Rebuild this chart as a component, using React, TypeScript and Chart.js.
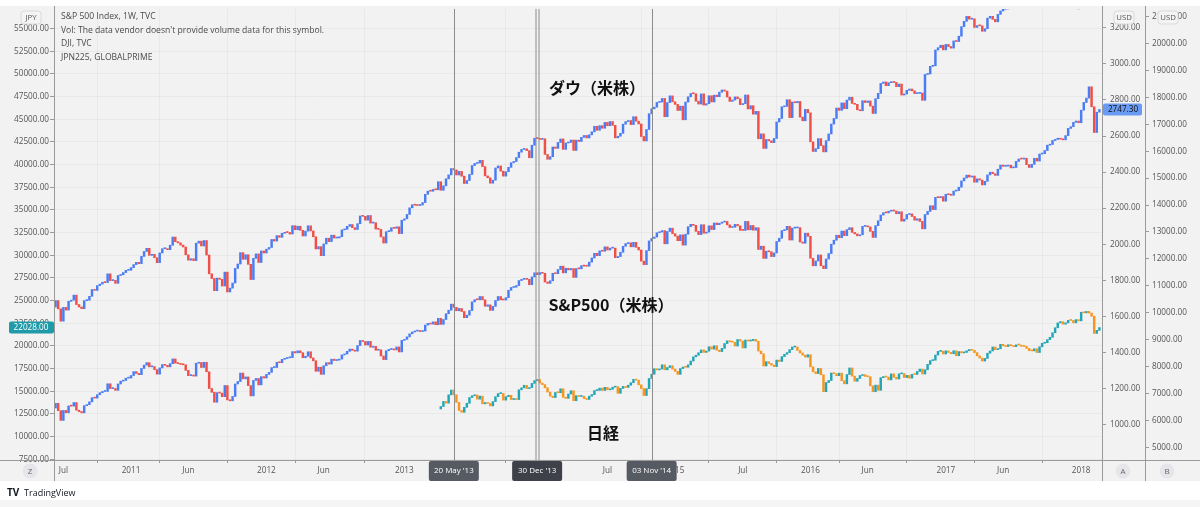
import React, { useEffect, useRef } from "react";
import { Chart, registerables } from "chart.js";
Chart.register(...registerables);

// Weekly candles, week index 0 = week of 14 Jun 2010, 401 = week of 19 Feb 2018
const DOW_FIRST_OPEN = 10211;
const DOW_CLOSE = [
  // 2010
  10450.6, 10143.8, 9686.5, 10198.0, 10097.9, 10424.6, 10465.9, 10653.6, 10303.2, 10213.6, 10150.65, 10447.9, 10462.8, 10607.85, 10860.3, 10829.7, 11006.5, 11062.8, 11132.6, 11118.5, 11444.1, 11192.6, 11203.55, 11092.0, 11382.1, 11410.3, 11491.9, 11573.5, 11577.5,
  // 2011
  11674.8, 11787.4, 11871.8, 11823.7, 12092.15, 12273.3, 12391.25, 12130.45, 12169.9, 12044.4, 11858.5, 12220.6, 12376.7, 12380.05, 12341.8, 12505.99, 12810.5, 12638.7, 12595.75, 12512.0, 12441.6, 12151.3, 11951.9, 12004.4, 11934.6, 12582.8, 12657.2, 12479.7, 12681.2, 12143.2, 11444.6, 11269.0, 10817.65, 11284.5, 11240.3, 10992.1, 11509.1, 10771.5, 10913.4, 11103.1, 11644.5, 11808.8, 12231.1, 11983.2, 12153.7, 11796.2, 11231.8, 12019.4, 12184.3, 11866.4, 12294.0, 12217.6,
  // 2012
  12359.9, 12422.1, 12720.5, 12660.5, 12862.2, 12801.2, 12949.9, 12982.95, 12977.6, 12922.0, 13232.6, 13080.7, 13212.0, 13060.1, 12849.6, 13029.3, 13228.3, 13038.3, 12820.6, 12369.4, 12454.8, 12118.6, 12554.2, 12767.2, 12640.8, 12880.1, 12772.5, 12777.1, 12822.6, 13075.7, 13096.2, 13207.95, 13275.2, 13157.97, 13090.8, 13306.6, 13593.4, 13579.5, 13437.1, 13610.15, 13328.85, 13343.5, 13107.2, 13093.2, 12815.4, 12588.3, 13009.7, 13025.6, 13155.1, 13135.0, 13190.8, 12938.1,
  // 2013
  13435.2, 13488.4, 13649.7, 13895.98, 14009.8, 13992.97, 13981.8, 14000.6, 14089.7, 14397.1, 14514.1, 14512.0, 14578.5, 14565.25, 14865.1, 14547.5, 14712.55, 14973.96, 15118.5, 15354.4, 15303.1, 15115.6, 15248.1, 15070.2, 14799.4, 14909.6, 15135.8, 15464.3, 15543.7, 15558.8, 15658.4, 15425.5, 15081.5, 15010.5, 14810.3, 14922.5, 15376.1, 15451.1, 15258.2, 15072.6, 15237.1, 15399.65, 15570.3, 15615.55, 15761.8, 15961.7, 16064.8, 16086.4, 16020.2, 15755.4, 16221.1, 16478.4,
  // 2014
  16469.99, 16437.05, 16458.6, 15879.1, 15698.85, 15794.1, 16154.4, 16103.3, 16321.7, 16452.7, 16065.7, 16302.8, 16323.1, 16412.7, 16026.75, 16408.5, 16361.5, 16512.9, 16583.3, 16491.3, 16606.3, 16717.2, 16924.3, 16775.7, 16947.1, 16851.8, 17068.3, 16943.8, 17100.2, 16960.6, 16493.4, 16553.9, 16662.9, 17001.2, 17098.45, 17137.4, 16987.5, 17279.7, 17113.15, 17009.7, 16544.1, 16380.4, 16805.4, 17390.5, 17573.9, 17634.7, 17810.1, 17828.2, 17958.8, 17280.8, 17804.8, 18053.7,
  // 2015
  17832.99, 17737.4, 17511.6, 17672.6, 17164.95, 17824.3, 18019.35, 18140.4, 18132.7, 17856.8, 17749.3, 18127.65, 17712.7, 17763.2, 18057.65, 17826.3, 18080.1, 18024.1, 18191.1, 18272.6, 18232.0, 18010.7, 17849.5, 17898.8, 18015.95, 17946.7, 17730.1, 17760.4, 18086.45, 17568.5, 17689.9, 17373.4, 17477.4, 16459.75, 16643.0, 16102.4, 16433.1, 16384.6, 16314.7, 16472.4, 17084.5, 17215.97, 17646.7, 17663.5, 17910.3, 17245.2, 17823.8, 17798.5, 17847.6, 17265.2, 17128.55, 17552.2,
  // 2016
  17425.0, 16346.45, 15988.1, 16093.5, 16466.3, 16204.97, 15973.8, 16391.99, 16639.97, 17006.8, 17213.3, 17602.3, 17515.7, 17792.75, 17576.96, 17897.5, 18003.75, 17773.6, 17740.6, 17535.3, 17500.9, 17873.2, 17807.06, 17865.3, 17675.2, 17400.75, 17949.4, 18146.7, 18516.55, 18570.85, 18432.2, 18543.5, 18576.5, 18552.6, 18395.4, 18491.96, 18085.45, 18123.8, 18261.45, 18308.15, 18240.5, 18138.4, 18145.7, 18161.2, 17888.3, 18847.7, 18867.9, 19152.1, 19170.4, 19756.85, 19843.4, 19933.8, 19762.6,
  // 2017
  19963.8, 19885.7, 19827.25, 20093.8, 20071.5, 20269.4, 20624.05, 20821.8, 21005.7, 20902.98, 20914.6, 20596.7, 20663.2, 20656.1, 20453.25, 20547.8, 20940.5, 21006.9, 20896.6, 20804.8, 21080.3, 21206.3, 21271.97, 21384.3, 21394.8, 21349.6, 21414.3, 21637.7, 21580.1, 21830.3, 22092.8, 21858.3, 21674.5, 21813.7, 21987.6, 21797.8, 22268.3, 22349.6, 22405.1, 22773.7, 22871.7, 23328.6, 23434.2, 23539.2, 23422.2, 23358.2, 23557.99, 24231.6, 24329.2, 24651.7, 24754.1, 24719.2,
  // 2018
  25295.9, 25803.2, 26071.7, 26616.7, 25520.96, 24190.9, 25219.4, 25309.99,
];

const SP_FIRST_OPEN = 1091.6;
const SP_CLOSE = [
  // 2010
  1117.5, 1076.8, 1022.6, 1077.96, 1064.9, 1102.7, 1101.6, 1121.6, 1079.25, 1071.7, 1064.6, 1104.5, 1109.6, 1125.6, 1148.7, 1146.2, 1165.15, 1176.2, 1183.1, 1183.3, 1225.85, 1199.2, 1199.7, 1189.4, 1224.7, 1240.4, 1243.9, 1256.8, 1257.6,
  // 2011
  1271.5, 1293.2, 1283.35, 1276.3, 1310.9, 1329.15, 1343.0, 1319.9, 1321.15, 1304.3, 1279.2, 1313.8, 1332.4, 1328.2, 1319.7, 1337.4, 1363.6, 1340.2, 1337.8, 1333.3, 1331.1, 1300.2, 1270.98, 1271.5, 1268.45, 1339.7, 1343.8, 1316.1, 1345.0, 1292.3, 1199.4, 1178.8, 1123.5, 1176.8, 1173.97, 1154.2, 1216.0, 1136.4, 1131.4, 1155.5, 1224.6, 1238.25, 1285.1, 1253.2, 1263.85, 1215.65, 1158.7, 1244.3, 1255.2, 1219.7, 1265.3, 1257.6,
  // 2012
  1277.8, 1289.1, 1315.4, 1316.3, 1344.9, 1342.6, 1361.2, 1365.7, 1369.6, 1370.9, 1404.2, 1397.1, 1408.5, 1398.1, 1370.3, 1378.5, 1403.4, 1369.1, 1353.4, 1295.2, 1317.8, 1278.0, 1325.7, 1342.8, 1335.0, 1362.2, 1354.7, 1356.8, 1362.7, 1385.97, 1390.99, 1405.9, 1418.2, 1411.1, 1406.6, 1437.9, 1465.8, 1460.2, 1440.7, 1460.9, 1428.6, 1433.2, 1411.9, 1414.2, 1379.85, 1359.9, 1409.15, 1416.2, 1418.1, 1413.6, 1430.15, 1402.4,
  // 2013
  1466.5, 1472.05, 1485.98, 1502.96, 1513.17, 1517.93, 1519.79, 1515.6, 1518.2, 1551.2, 1560.7, 1556.9, 1569.2, 1553.3, 1588.85, 1555.25, 1582.2, 1614.4, 1633.7, 1667.5, 1649.6, 1630.7, 1643.4, 1626.7, 1592.4, 1606.3, 1631.9, 1680.2, 1692.1, 1691.65, 1709.7, 1691.4, 1655.8, 1663.5, 1632.97, 1655.2, 1687.99, 1709.9, 1691.75, 1690.5, 1703.2, 1744.5, 1759.8, 1761.6, 1770.6, 1798.2, 1804.8, 1805.8, 1805.1, 1775.3, 1818.3, 1841.4,
  // 2014
  1831.4, 1842.4, 1838.7, 1790.3, 1782.6, 1797.0, 1838.6, 1836.25, 1859.45, 1878.0, 1841.1, 1866.5, 1857.6, 1865.1, 1815.7, 1864.85, 1863.4, 1881.1, 1878.5, 1877.9, 1900.5, 1923.6, 1949.4, 1936.2, 1962.9, 1960.96, 1985.4, 1967.6, 1978.2, 1978.3, 1925.15, 1931.6, 1955.1, 1988.4, 2003.4, 2007.7, 1985.5, 2010.4, 1982.85, 1967.9, 1906.1, 1886.8, 1964.6, 2018.05, 2031.9, 2039.8, 2063.5, 2067.6, 2075.4, 2002.3, 2070.65, 2088.8,
  // 2015
  2058.2, 2044.8, 2019.4, 2051.8, 1994.99, 2055.5, 2096.99, 2110.3, 2104.5, 2071.3, 2053.4, 2108.1, 2061.0, 2066.96, 2102.06, 2081.2, 2117.7, 2108.3, 2116.1, 2122.7, 2126.06, 2107.4, 2092.8, 2094.1, 2109.99, 2101.5, 2076.8, 2076.6, 2126.6, 2079.65, 2103.8, 2077.6, 2091.5, 1970.9, 1988.9, 1921.2, 1961.05, 1958.0, 1931.3, 1951.4, 2014.9, 2033.1, 2075.15, 2079.4, 2099.2, 2023.0, 2089.2, 2090.1, 2091.7, 2012.4, 2005.55, 2060.99,
  // 2016
  2043.9, 1922.0, 1880.3, 1906.9, 1940.2, 1880.05, 1864.8, 1917.8, 1948.05, 1999.99, 2022.2, 2049.6, 2035.9, 2072.8, 2047.6, 2080.7, 2091.6, 2065.3, 2057.1, 2046.6, 2052.3, 2099.1, 2099.1, 2096.1, 2071.2, 2037.4, 2102.95, 2129.9, 2161.7, 2175.0, 2173.6, 2182.9, 2184.05, 2183.9, 2169.0, 2179.98, 2127.8, 2139.2, 2164.7, 2168.3, 2153.7, 2132.98, 2141.2, 2126.4, 2085.2, 2164.45, 2181.9, 2213.35, 2191.95, 2259.5, 2258.1, 2263.8, 2238.8,
  // 2017
  2276.98, 2274.6, 2271.3, 2294.7, 2297.4, 2316.1, 2351.2, 2367.3, 2383.1, 2372.6, 2378.25, 2343.98, 2362.7, 2355.5, 2328.95, 2348.7, 2384.2, 2399.3, 2390.9, 2381.7, 2415.8, 2439.1, 2431.8, 2433.15, 2438.3, 2423.4, 2425.2, 2459.3, 2472.5, 2472.1, 2476.8, 2441.3, 2425.55, 2443.05, 2476.55, 2461.4, 2500.2, 2502.2, 2519.4, 2549.3, 2553.2, 2575.2, 2581.1, 2587.8, 2582.3, 2578.85, 2602.4, 2642.2, 2651.5, 2675.8, 2683.3, 2673.6,
  // 2018
  2743.15, 2786.2, 2810.3, 2872.9, 2762.1, 2619.55, 2732.2, 2747.3,
];

// Nikkei (JPN225) starts at week index 148 (week of 15 Apr 2013)
const NK_START = 148;
const NK_FIRST_OPEN = 13050;
const NK_CLOSE = [
  // 2013
  13317, 13884, 13694, 14608, 15138, 14612, 13774, 12877, 12686, 13230, 13677, 14310, 14506, 14589, 14130, 14467, 13615, 13752, 13660, 13389, 13861, 14405, 14742, 14760, 14025, 14405, 14562, 14088, 14201, 14086, 15165, 15381, 15661, 15299, 15403, 15870, 16178,
  // 2014
  16291, 15912, 15734, 15391, 14915, 14462, 14313, 14866, 14841, 15274, 14327, 14224, 14696, 15063, 13960, 14516, 14429, 14457, 14199, 14097, 14462, 14632, 15077, 15097, 15349, 15095, 15437, 15164, 15215, 15457, 15523, 14778, 15318, 15539, 15425, 15669, 15948, 16321, 16229, 15708, 15300, 14532, 15291, 16413, 16880, 17490, 17357, 17460, 17920, 17371, 17621, 17818,
  // 2015
  17451, 17197, 16864, 17511, 17674, 17648, 17913, 18332, 18798, 18971, 19254, 19560, 19286, 19435, 19908, 19652, 20020, 19532, 19379, 19733, 20264, 20563, 20461, 20407, 19991, 20706, 20540, 19780, 20650, 20545, 20585, 20724, 20520, 19436, 19136, 17792, 18264, 18070, 17880, 17725, 18438, 18291, 18825, 19083, 19265, 19596, 19880, 19884, 19504, 19231, 18987, 18770,
  // 2016
  19034, 17698, 17147, 16959, 17518, 16820, 14953, 15967, 16188, 17014, 16938, 16724, 17002, 16164, 15821, 16848, 17572, 16666, 16106, 16412, 16736, 16834, 16642, 16601, 15600, 14952, 15682, 15106, 16497, 16627, 16569, 16254, 16919, 16545, 16360, 16925, 16965, 16519, 16754, 16449, 16860, 16856, 17184, 17446, 16905, 17374, 17968, 18381, 18426, 18996, 19401, 19427, 19114,
  // 2017
  19454, 19287, 19137, 19467, 18918, 19378, 19235, 19284, 19469, 19605, 19521, 19263, 18909, 18665, 18336, 18620, 19197, 19445, 19883, 19591, 19687, 20177, 20013, 19943, 20133, 20033, 19929, 20119, 20100, 19960, 19952, 19730, 19470, 19453, 19691, 19275, 19909, 20296, 20356, 20691, 20955, 21457, 22008, 22539, 22681, 22397, 22551, 22819, 22811, 22553, 22902, 22765,
  // 2018
  23714, 23653, 23808, 23631, 23274, 21383, 21720, 22028,
];

// Time axis
const X_TICK_POS = [3, 29, 51, 81, 103, 134, 212, 238, 264, 290, 312, 342, 364, 394];
const X_TICK_TEXT = ["Jul", "2011", "Jun", "2012", "Jun", "2013", "Jul", "2015", "Jul", "2016", "Jun", "2017", "Jun", "2018"];
const MARKER_POS = [153, 185, 229];
const MARKER_TEXT = ["20 May '13", "30 Dec '13", "03 Nov '14"];

// Price axes
const JPY_TICKS = [7500, 10000, 12500, 15000, 17500, 20000, 22500, 25000, 27500, 30000, 32500, 35000, 37500, 40000, 42500, 45000, 47500, 50000, 52500, 55000];
const SP_TICKS = [1000, 1200, 1400, 1600, 1800, 2000, 2200, 2400, 2600, 2800, 3000, 3200];
const DOW_TICKS = [5000, 6000, 7000, 8000, 9000, 10000, 11000, 12000, 13000, 14000, 15000, 16000, 17000, 18000, 19000, 20000, 21000];

const SERIES_LABELS = ["ダウ（米株）", "S&P500（米株）", "日経"];
const LEGEND_LINES = [
  "S&P 500 Index, 1W, TVC",
  "Vol: The data vendor doesn't provide volume data for this symbol.",
  "DJI, TVC",
  "JPN225, GLOBALPRIME",
];

const FONT = "'Open Sans', 'Noto Sans', sans-serif";
const JP_FONT = "'Noto Sans CJK JP', 'Noto Sans', sans-serif";

function makeCandles(closes: number[], firstOpen: number, start: number) {
  return closes.map((c, i) => ({ x: start + i, y: [i === 0 ? firstOpen : closes[i - 1], c] }));
}
function candleColors(closes: number[], firstOpen: number, up: string, down: string) {
  return closes.map((c, i) => (c >= (i === 0 ? firstOpen : closes[i - 1]) ? up : down));
}

function roundRect(ctx: CanvasRenderingContext2D, x: number, y: number, w: number, h: number, r: number) {
  ctx.beginPath();
  ctx.moveTo(x + r, y);
  ctx.lineTo(x + w - r, y);
  ctx.quadraticCurveTo(x + w, y, x + w, y + r);
  ctx.lineTo(x + w, y + h - r);
  ctx.quadraticCurveTo(x + w, y + h, x + w - r, y + h);
  ctx.lineTo(x + r, y + h);
  ctx.quadraticCurveTo(x, y + h, x, y + h - r);
  ctx.lineTo(x, y + r);
  ctx.quadraticCurveTo(x, y, x + r, y);
  ctx.closePath();
}

const decorPlugin = {
  id: "decor",
  beforeDraw(chart: any) {
    const ctx = chart.ctx as CanvasRenderingContext2D;
    ctx.save();
    ctx.fillStyle = "#ffffff";
    ctx.fillRect(0, 0, chart.width, chart.height);
    ctx.fillStyle = "#f2f2f2";
    ctx.fillRect(0, 6, chart.width, 475);
    ctx.fillStyle = "#f5f5f5";
    ctx.fillRect(0, 500, chart.width, 7);
    ctx.restore();
  },
  afterDatasetsDraw(chart: any) {
    const ctx = chart.ctx as CanvasRenderingContext2D;
    const xs = chart.scales.x;
    const ca = chart.chartArea;
    ctx.save();
    // vertical marker lines
    ctx.strokeStyle = "#8c8c8c";
    ctx.lineWidth = 1;
    MARKER_POS.forEach((p, i) => {
      const px = Math.round(xs.getPixelForValue(p)) + 0.5;
      const offs = i === 1 ? [-1.5, 1.5] : [0];
      offs.forEach((o) => {
        ctx.beginPath();
        ctx.moveTo(px + o, ca.top);
        ctx.lineTo(px + o, 481);
        ctx.stroke();
      });
    });
    // series labels
    ctx.fillStyle = "#111";
    ctx.font = `bold 16px ${JP_FONT}`;
    ctx.textAlign = "center";
    ctx.textBaseline = "middle";
    ctx.fillText(SERIES_LABELS[0], 597, 88);
    ctx.fillText(SERIES_LABELS[1], 611, 305);
    ctx.fillText(SERIES_LABELS[2], 603, 433);
    // legend
    ctx.font = `8.6px ${FONT}`;
    ctx.fillStyle = "#4a4a4a";
    ctx.textAlign = "left";
    LEGEND_LINES.forEach((t, i) => ctx.fillText(t, 61, 17 + i * 13.4));
    ctx.restore();
  },
  afterDraw(chart: any) {
    const ctx = chart.ctx as CanvasRenderingContext2D;
    const xs = chart.scales.x;
    ctx.save();
    // axis separators through bottom band
    ctx.strokeStyle = "#9a9a9a";
    ctx.lineWidth = 1;
    [54.5, 1102.5, 1145.5].forEach((x) => {
      ctx.beginPath();
      ctx.moveTo(x, 6);
      ctx.lineTo(x, 481);
      ctx.stroke();
    });
    ctx.beginPath();
    ctx.moveTo(0, 460.5);
    ctx.lineTo(1200, 460.5);
    ctx.stroke();
    // marker boxes on time axis
    ctx.font = `8px ${FONT}`;
    ctx.textAlign = "center";
    ctx.textBaseline = "middle";
    MARKER_POS.forEach((p, i) => {
      const px = xs.getPixelForValue(p);
      ctx.fillStyle = i === 1 ? "#3e4149" : "#565a63";
      roundRect(ctx, px - 25, 461, 50, 20, 2);
      ctx.fill();
      ctx.fillStyle = "#ffffff";
      ctx.fillText(MARKER_TEXT[i], px, 471);
    });
    // price labels
    const nkLast = NK_CLOSE[NK_CLOSE.length - 1];
    const yN = chart.scales.yJPY.getPixelForValue(nkLast);
    ctx.fillStyle = "#1f9aa8";
    roundRect(ctx, 9, yN - 6, 45, 12, 2);
    ctx.fill();
    ctx.fillStyle = "#fff";
    ctx.font = `8.2px ${FONT}`;
    ctx.fillText(nkLast.toFixed(2), 31, yN + 0.5);
    const spLast = SP_CLOSE[SP_CLOSE.length - 1];
    const yS = chart.scales.ySP.getPixelForValue(spLast);
    ctx.fillStyle = "#6b9af2";
    roundRect(ctx, 1103, yS - 6, 39, 12, 2);
    ctx.fill();
    ctx.fillStyle = "#111";
    ctx.fillText(spLast.toFixed(2), 1123, yS + 0.5);
    // unit boxes
    const unit = (t: string, cx: number) => {
      ctx.fillStyle = "#f4f4f4";
      roundRect(ctx, cx - 10, 11, 20, 13, 3);
      ctx.fill();
      ctx.strokeStyle = "#dadada";
      ctx.stroke();
      ctx.fillStyle = "#555";
      ctx.font = `7.8px ${FONT}`;
      ctx.fillText(t, cx, 18);
    };
    unit("JPY", 31);
    unit("USD", 1124);
    unit("USD", 1168);
    // circles
    const circ = (t: string, cx: number) => {
      ctx.fillStyle = "#e6e6ea";
      ctx.beginPath();
      ctx.arc(cx, 471, 7.5, 0, Math.PI * 2);
      ctx.fill();
      ctx.fillStyle = "#666";
      ctx.font = `8px ${FONT}`;
      ctx.fillText(t, cx, 471.5);
    };
    circ("Z", 30);
    circ("A", 1123);
    circ("B", 1167);
    // TradingView logo
    ctx.textAlign = "left";
    ctx.fillStyle = "#131722";
    ctx.font = `bold 10px ${FONT}`;
    ctx.fillText("TV", 7, 493);
    ctx.font = `9px ${FONT}`;
    ctx.fillText("TradingView", 24, 493);
    ctx.restore();
  },
};

export default function App() {
  const ref = useRef<HTMLCanvasElement | null>(null);
  useEffect(() => {
    if (!ref.current) return;
    const tickFont = { family: FONT, size: 8.2 };
    const chart = new Chart(ref.current, {
      type: "bar",
      data: {
        datasets: [
          {
            label: "DJI",
            data: makeCandles(DOW_CLOSE, DOW_FIRST_OPEN, 0) as any,
            backgroundColor: candleColors(DOW_CLOSE, DOW_FIRST_OPEN, "#4a7cf4", "#ef4f47"),
            yAxisID: "yDow",
            barThickness: 1.8,
            minBarLength: 1,
            grouped: false,
            borderWidth: 0,
          },
          {
            label: "SPX",
            data: makeCandles(SP_CLOSE, SP_FIRST_OPEN, 0) as any,
            backgroundColor: candleColors(SP_CLOSE, SP_FIRST_OPEN, "#4a7cf4", "#ef4f47"),
            yAxisID: "ySP",
            barThickness: 1.8,
            minBarLength: 1,
            grouped: false,
            borderWidth: 0,
          },
          {
            label: "JPN225",
            data: makeCandles(NK_CLOSE, NK_FIRST_OPEN, NK_START) as any,
            backgroundColor: candleColors(NK_CLOSE, NK_FIRST_OPEN, "#22a6b6", "#f7961f"),
            yAxisID: "yJPY",
            barThickness: 1.8,
            minBarLength: 1,
            grouped: false,
            borderWidth: 0,
          },
        ],
      },
      options: {
        responsive: false,
        animation: false,
        layout: { padding: { top: 7, bottom: 26, left: 0, right: 0 } },
        plugins: { legend: { display: false }, tooltip: { enabled: false } },
        scales: {
          x: {
            type: "linear",
            min: -0.6,
            max: 402,
            offset: false,
            afterBuildTicks: (s: any) => {
              s.ticks = X_TICK_POS.map((v) => ({ value: v }));
            },
            afterFit: (s: any) => {
              s.height = 21;
            },
            ticks: {
              autoSkip: false,
              maxRotation: 0,
              font: tickFont,
              color: "#555",
              padding: 3,
              callback: (v: any) => {
                const i = X_TICK_POS.indexOf(Number(v));
                return i >= 0 ? X_TICK_TEXT[i] : "";
              },
            },
            grid: { color: "rgba(0,0,0,0.035)", tickLength: 3, tickColor: "#9a9a9a" },
            border: { color: "#9a9a9a" },
          },
          yJPY: {
            type: "linear",
            position: "left",
            min: 7423,
            max: 57163,
            afterBuildTicks: (s: any) => {
              s.ticks = JPY_TICKS.map((v) => ({ value: v }));
            },
            afterFit: (s: any) => {
              s.width = 54;
            },
            ticks: { font: tickFont, color: "#555", padding: 1, callback: (v: any) => Number(v).toFixed(2) },
            grid: { color: "rgba(0,0,0,0.035)", tickLength: 4, tickColor: "#9a9a9a" },
            border: { color: "#9a9a9a" },
          },
          ySP: {
            type: "linear",
            position: "right",
            weight: 0,
            min: 803,
            max: 3305,
            afterBuildTicks: (s: any) => {
              s.ticks = SP_TICKS.map((v) => ({ value: v }));
            },
            afterFit: (s: any) => {
              s.width = 43;
            },
            ticks: { font: tickFont, color: "#555", padding: 4, callback: (v: any) => Number(v).toFixed(2) },
            grid: { drawOnChartArea: false, tickLength: 4, tickColor: "#9a9a9a" },
            border: { color: "#9a9a9a" },
          },
          yDow: {
            type: "linear",
            position: "right",
            weight: 1,
            min: 4530,
            max: 21283,
            afterBuildTicks: (s: any) => {
              s.ticks = DOW_TICKS.map((v) => ({ value: v }));
            },
            afterFit: (s: any) => {
              s.width = 55;
            },
            ticks: { font: tickFont, color: "#555", padding: 3, callback: (v: any) => Number(v).toFixed(2) },
            grid: { drawOnChartArea: false, tickLength: 4, tickColor: "#9a9a9a" },
            border: { color: "#9a9a9a" },
          },
        },
      } as any,
      plugins: [decorPlugin],
    });
    return () => chart.destroy();
  }, []);
  return (
    <div style={{ position: "fixed", left: 0, top: 0, width: 1200, height: 507, background: "#fff" }}>
      <canvas ref={ref} width={1200} height={507} style={{ display: "block", width: 1200, height: 507 }} />
    </div>
  );
}
